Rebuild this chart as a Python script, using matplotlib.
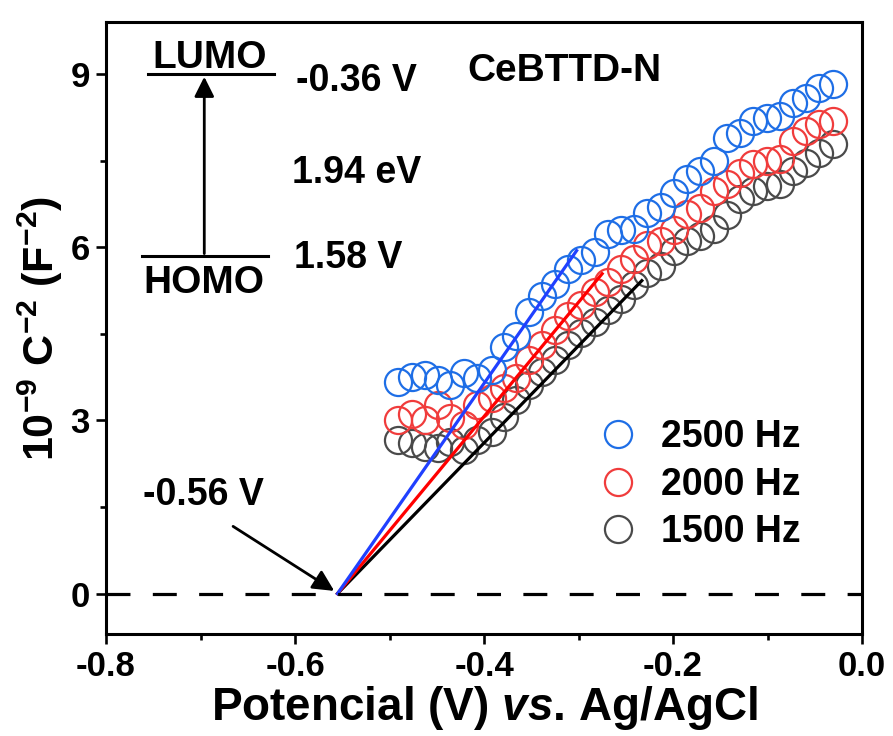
import numpy as np
import matplotlib
matplotlib.use("Agg")
import matplotlib.pyplot as plt

plt.rcParams["font.family"] = ["Liberation Sans", "DejaVu Sans"]
plt.rcParams["font.weight"] = "bold"
plt.rcParams["axes.labelweight"] = "bold"
plt.rcParams["axes.unicode_minus"] = False
plt.rcParams["mathtext.fontset"] = "custom"
plt.rcParams["mathtext.rm"] = "Liberation Sans:bold"
plt.rcParams["mathtext.it"] = "Liberation Sans:bold:italic"
plt.rcParams["mathtext.bf"] = "Liberation Sans:bold"

# Data (potential in V vs Ag/AgCl, 1e-9 C^-2)
potential = [-0.491, -0.476, -0.462, -0.449, -0.436, -0.421, -0.407, -0.392, -0.379, -0.366,
             -0.352, -0.339, -0.325, -0.311, -0.297, -0.283, -0.269, -0.255, -0.241, -0.227,
             -0.213, -0.199, -0.185, -0.171, -0.157, -0.143, -0.129, -0.115, -0.101, -0.087,
             -0.073, -0.059, -0.045, -0.031]
c2_2500 = [3.66, 3.75, 3.78, 3.70, 3.61, 3.82, 3.73, 3.87, 4.27, 4.47,
           4.87, 5.16, 5.37, 5.63, 5.77, 5.91, 6.23, 6.29, 6.32, 6.60,
           6.70, 6.93, 7.18, 7.32, 7.50, 7.89, 7.98, 8.19, 8.24, 8.27,
           8.50, 8.58, 8.76, 8.83]
c2_2000 = [3.01, 3.11, 3.01, 3.26, 3.04, 2.92, 3.26, 3.39, 3.56, 3.73,
           4.04, 4.30, 4.56, 4.80, 4.99, 5.22, 5.39, 5.63, 5.80, 6.03,
           6.11, 6.29, 6.58, 6.68, 6.98, 7.10, 7.29, 7.44, 7.50, 7.53,
           7.84, 8.01, 8.13, 8.19]
c2_1500 = [2.66, 2.61, 2.54, 2.52, 2.63, 2.49, 2.66, 2.80, 3.06, 3.35,
           3.61, 3.83, 4.04, 4.30, 4.51, 4.70, 4.91, 5.11, 5.34, 5.56,
           5.68, 5.94, 6.11, 6.20, 6.32, 6.55, 6.84, 6.98, 7.06, 7.10,
           7.32, 7.46, 7.63, 7.79]
labels = ["2500 Hz", "2000 Hz", "1500 Hz"]

# Mott-Schottky linear fits (start at flat-band potential)
fit_x_2500 = [-0.555, -0.302]
fit_y_2500 = [0.0, 5.94]
fit_x_2000 = [-0.555, -0.275]
fit_y_2000 = [0.0, 5.54]
fit_x_1500 = [-0.555, -0.233]
fit_y_1500 = [0.0, 5.42]

fig = plt.figure(figsize=(8.93, 7.36), dpi=100)
ax = fig.add_axes([0.1187, 0.1386, 0.8466, 0.8315])

ms = 19.5
mew = 1.6
h1500, = ax.plot(potential, c2_1500, "o", ms=ms, mfc="none", mec="#4a4a4a", mew=mew, label=labels[2])
h2000, = ax.plot(potential, c2_2000, "o", ms=ms, mfc="none", mec="#f03c3c", mew=mew, label=labels[1])
h2500, = ax.plot(potential, c2_2500, "o", ms=ms, mfc="none", mec="#1e6ee6", mew=mew, label=labels[0])

ax.plot(fit_x_1500, fit_y_1500, color="black", lw=2.3)
ax.plot(fit_x_2000, fit_y_2000, color="red", lw=2.3)
ax.plot(fit_x_2500, fit_y_2500, color="#2040ff", lw=2.3)

ax.axhline(0, color="black", lw=2.3, dashes=(7.5, 7))

# flat band arrow
ax.annotate("", xy=(-0.556, 0.02), xytext=(-0.668, 1.19),
            arrowprops=dict(arrowstyle="-|>", color="black", lw=2, mutation_scale=32))
ax.text(-0.697, 1.71, "-0.56 V", fontsize=27, ha="center", va="center")

# band diagram inset
ax.plot([-0.756, -0.622], [9.0, 9.0], color="black", lw=2.2)
ax.plot([-0.762, -0.629], [5.84, 5.84], color="black", lw=2.2)
ax.annotate("", xy=(-0.696, 9.0), xytext=(-0.696, 5.84),
            arrowprops=dict(arrowstyle="-|>", color="black", lw=2, mutation_scale=30))
ax.text(-0.690, 9.1, "LUMO", fontsize=28, ha="center", va="baseline")
ax.text(-0.696, 5.2, "HOMO", fontsize=28, ha="center", va="baseline")
ax.text(-0.599, 8.88, "-0.36 V", fontsize=27, ha="left", va="center")
ax.text(-0.603, 7.29, "1.94 eV", fontsize=27, ha="left", va="center")
ax.text(-0.601, 5.82, "1.58 V", fontsize=27, ha="left", va="center")
ax.text(-0.418, 9.05, "CeBTTD-N", fontsize=28, ha="left", va="center")

ax.set_xlim(-0.8, 0.0)
ax.set_ylim(-0.7, 9.9)
ax.set_xticks(np.arange(-0.8, 0.01, 0.2))
ax.set_xticks(np.arange(-0.7, 0.0, 0.2), minor=True)
ax.set_yticks([0, 3, 6, 9])
ax.set_yticks([1.5, 4.5, 7.5], minor=True)
ax.set_xticklabels(["-0.8", "-0.6", "-0.4", "-0.2", "0.0"])
ax.tick_params(which="major", length=7.5, width=1.9, labelsize=25, pad=4)
ax.tick_params(which="minor", length=4.5, width=1.9)
for s in ax.spines.values():
    s.set_linewidth(2.2)

ax.set_xlabel("Potencial (V) $vs$. Ag/AgCl", fontsize=33, labelpad=1)
ax.set_ylabel("10$^{-9}$ C$^{-2}$ (F$^{-2}$)", fontsize=31, labelpad=4)

ax.legend(handles=[h2500, h2000, h1500], loc="upper left", bbox_to_anchor=(0.632, 0.375),
          frameon=False, fontsize=27, handlelength=1.0, handletextpad=0.65,
          labelspacing=0.3, borderaxespad=0)

fig.savefig("out.png", dpi=100)
